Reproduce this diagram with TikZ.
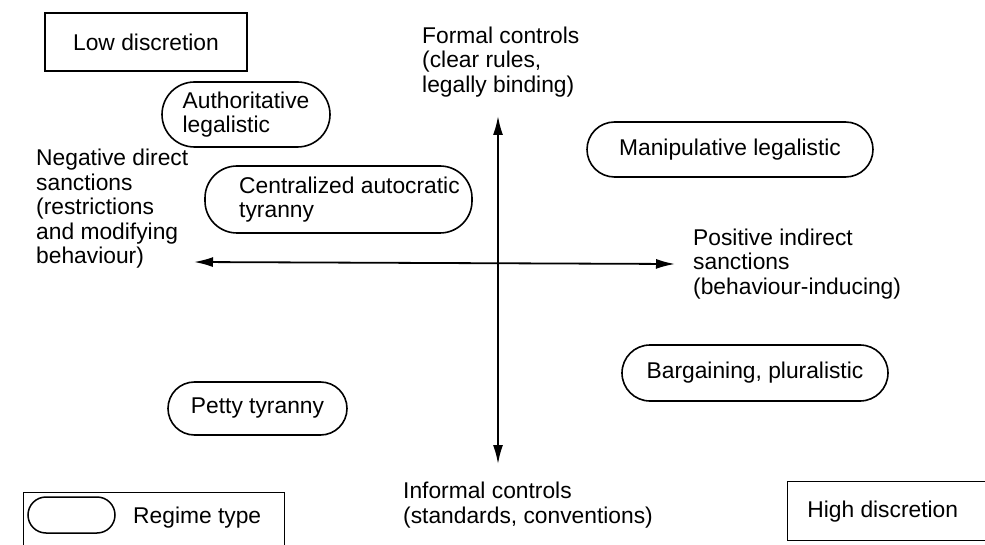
\documentclass[tikz,border=0pt]{standalone}
\usepackage{fontspec}
\setmainfont{Liberation Sans}
\usetikzlibrary{arrows.meta,shapes.misc}
\begin{document}
\begin{tikzpicture}[x=1pt,y=-1pt,
  txt/.style={font=\fontsize{22.8}{24.5}\selectfont, inner sep=0pt, align=left},
  boxed/.style={txt, draw, line width=1.4pt},
  pill/.style={txt, draw, line width=1.6pt, rounded rectangle},
  axis/.style={line width=1.8pt, {Latex[length=19pt,width=10pt]}-{Latex[length=19pt,width=10pt]}}
]
\useasboundingbox (0,0) rectangle (985,545);
\clip (0,0) rectangle (985,545);

% discretion boxes
\node[boxed, minimum width=202pt, minimum height=58pt] (low) at (146,42) {Low discretion};
\node[boxed, minimum width=220pt, minimum height=59pt, anchor=north west] (high) at (787,481) {\hspace*{-30pt}High discretion};

% regime types
\node[pill, minimum width=168pt, minimum height=65pt] (auth) at (246,114.5) {Authoritative\\legalistic};
\node[txt, draw, line width=1.6pt, minimum width=267pt, minimum height=67pt, rounded corners=32pt] (cent) at (338.5,199.5) {\hspace*{22pt}Centralized autocratic\\\hspace*{22pt}tyranny};
\node[pill, minimum width=286pt, minimum height=55pt] (manip) at (730,149.5) {Manipulative legalistic};
\node[pill, minimum width=266pt, minimum height=56pt] (barg) at (755,373) {Bargaining, pluralistic};
\node[pill, minimum width=179pt, minimum height=53pt] (petty) at (257.5,408.5) {Petty tyranny};

% axis labels
\node[txt, anchor=west] (formal) at (422,62) {Formal controls\\(clear rules,\\legally binding)};
\node[txt, anchor=west] (informal) at (403,505) {Informal controls\\(standards, conventions)};
\node[txt, anchor=west] (neg) at (36,209) {Negative direct\\sanctions\\(restrictions\\and modifying\\behaviour)};
\node[txt, anchor=west] (pos) at (693,264) {Positive indirect\\sanctions\\(behaviour-inducing)};

% axes
\coordinate (top) at (498,116);
\coordinate (bot) at (498,464);
\coordinate (lft) at (194,262);
\coordinate (rgt) at (675,264);
\draw[axis] (lft) -- (rgt);
\draw[axis] (bot) -- (top);

% legend
\node[boxed, minimum width=261pt, minimum height=70pt, anchor=north west] (legend) at (23,492) {};
\node[draw, line width=1.5pt, rounded rectangle, minimum width=87pt, minimum height=36pt, inner sep=0pt] (legpill) at (71.5,515) {};
\node[txt, anchor=west] (legtext) at (133,518) {Regime type};
\end{tikzpicture}
\end{document}
